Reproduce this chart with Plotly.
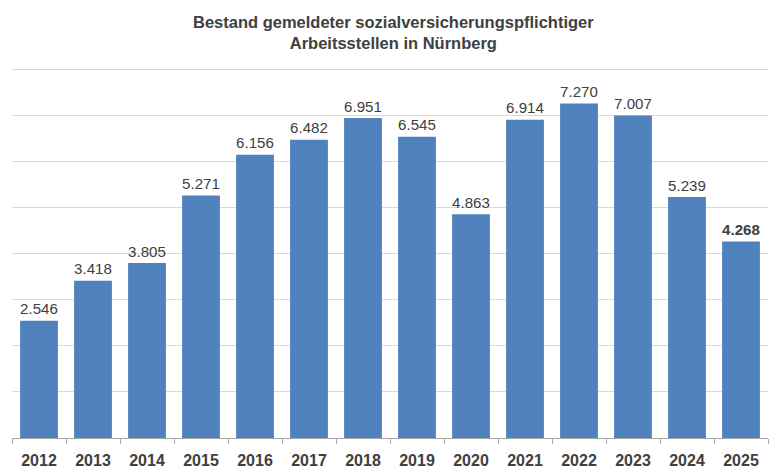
import plotly.graph_objects as go

years = ["2012", "2013", "2014", "2015", "2016", "2017", "2018", "2019",
         "2020", "2021", "2022", "2023", "2024", "2025"]
values = [2546, 3418, 3805, 5271, 6156, 6482, 6951, 6545,
          4863, 6914, 7270, 7007, 5239, 4268]

def fmt(v):
    return f"{v:,}".replace(",", ".")

labels = [fmt(v) for v in values]
labels[-1] = "<b>" + labels[-1] + "</b>"

FONT = "Liberation Sans, Arial, sans-serif"

fig = go.Figure(go.Bar(
    x=years, y=values, text=labels, textposition="outside",
    marker=dict(color="#4F81BD", line=dict(width=0)),
    textfont=dict(family=FONT, size=18, color="#404040"),
    cliponaxis=False,
))

fig.update_layout(
    width=771, height=470,
    margin=dict(l=12, r=3, t=68, b=32, autoexpand=False),
    paper_bgcolor="white", plot_bgcolor="white",
    bargap=0.3,
    showlegend=False,
    font=dict(family=FONT, color="#404040"),
    annotations=[dict(
        text="<b>Bestand gemeldeter sozialversicherungspflichtiger<br>Arbeitsstellen in Nürnberg</b>",
        xref="paper", yref="paper", x=0.5046, y=1.037,
        xanchor="center", yanchor="bottom", showarrow=False,
        font=dict(family=FONT, size=16.5, color="#404040"),
    )],
)

fig.update_yaxes(range=[0, 8040], tick0=0, dtick=1000, showticklabels=False,
                 showgrid=True, gridcolor="#D9D9D9", gridwidth=1,
                 zeroline=False, showline=False, automargin=False)
fig.update_xaxes(showline=True, linecolor="#A6A6A6", linewidth=1,
                 ticks="outside", tickson="boundaries", ticklen=5,
                 tickcolor="#A6A6A6", automargin=False,
                 ticklabelstandoff=8,
                 tickfont=dict(family=FONT, size=16, color="#404040"),
                 tickprefix="<b>", ticksuffix="</b>")

fig.write_html("out.html", config={"displayModeBar": False},
               post_script="document.body.style.margin='0';")
